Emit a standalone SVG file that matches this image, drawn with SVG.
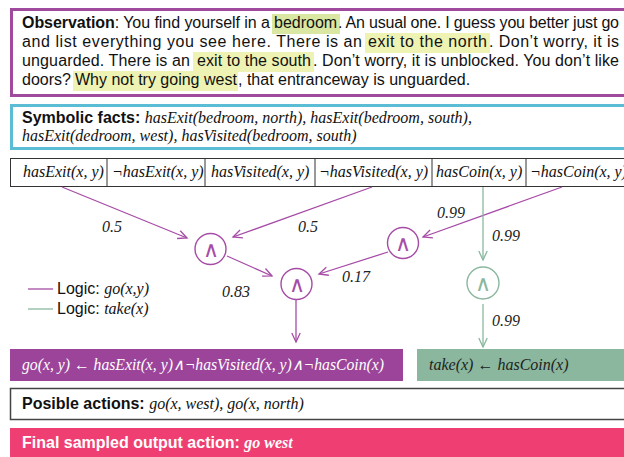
<svg xmlns="http://www.w3.org/2000/svg" width="624" height="457" viewBox="0 0 624 457">
<defs>
<style>
.sans{font-family:"Liberation Sans",Arial,sans-serif;font-size:16px;fill:#111}
.b{font-weight:bold}
.it{font-family:"Liberation Serif","Times New Roman",serif;font-style:italic;font-size:16px;fill:#111}
.hl{fill:#eef3b3}
.pe{stroke:#a64ca6;stroke-width:1.3;fill:none}
.ge{stroke:#8ab79e;stroke-width:1.3;fill:none}
.and{font-family:"DejaVu Sans",sans-serif;font-size:22px;text-anchor:middle;font-weight:200}
.lbl{font-family:"Liberation Serif","Times New Roman",serif;font-style:italic;font-size:16px;fill:#222}
</style>
<marker id="ap" markerWidth="12" markerHeight="12" refX="10" refY="5" orient="auto" markerUnits="userSpaceOnUse" viewBox="0 0 12 10"><path d="M1,0.8 L10,5 L1,9.2" fill="none" stroke="#a64ca6" stroke-width="1.3"/></marker>
<marker id="ag" markerWidth="12" markerHeight="12" refX="10" refY="5" orient="auto" markerUnits="userSpaceOnUse" viewBox="0 0 12 10"><path d="M1,0.8 L10,5 L1,9.2" fill="none" stroke="#8ab79e" stroke-width="1.3"/></marker>
</defs>
<rect width="624" height="457" fill="#fff"/>

<g id="observation">
<rect x="11.5" y="9.5" width="700" height="86" fill="none" stroke="#9f4a9c" stroke-width="3"/>
<rect x="272" y="14" width="68" height="20" fill="#d9e7a3"/>
<rect class="hl" x="365" y="33" width="125" height="20"/>
<rect class="hl" x="193" y="52" width="121" height="20"/>
<rect class="hl" x="73" y="71" width="165" height="20"/>
<text class="sans" x="22" y="28" textLength="248" lengthAdjust="spacing"><tspan class="b">Observation</tspan>: You find yourself in a</text>
<text class="sans" x="274" y="28">bedroom</text>
<text class="sans" x="338" y="28" textLength="281" lengthAdjust="spacing">. An usual one. I guess you better just go</text>
<text class="sans" x="22" y="47" textLength="340" lengthAdjust="spacing">and list everything you see here. There is an</text>
<text class="sans" x="368" y="47" textLength="119" lengthAdjust="spacing">exit to the north</text>
<text class="sans" x="489" y="47" textLength="130" lengthAdjust="spacing">. Don’t worry, it is</text>
<text class="sans" x="22" y="66" textLength="168" lengthAdjust="spacing">unguarded. There is an</text>
<text class="sans" x="197" y="66" textLength="114" lengthAdjust="spacing">exit to the south</text>
<text class="sans" x="313" y="66" textLength="306" lengthAdjust="spacing">. Don’t worry, it is unblocked. You don’t like</text>
<text class="sans" x="22" y="85">doors?</text>
<text class="sans" x="75" y="85">Why not try going west</text>
<text class="sans" x="238" y="85">, that entranceway is unguarded.</text>
</g>

<g id="symbolic-facts">
<rect x="11.5" y="105.5" width="700" height="43" fill="none" stroke="#5bbcd6" stroke-width="3"/>
<text x="22" y="123"><tspan class="sans b">Symbolic facts: </tspan><tspan class="it">hasExit(bedroom, north), hasExit(bedroom, south),</tspan></text>
<text class="it" x="22" y="141">hasExit(dedroom, west), hasVisited(bedroom, south)</text>
</g>

<g id="predicates">
<rect x="10.5" y="158.5" width="700" height="28" fill="#fff" stroke="#333" stroke-width="1"/>
<path d="M107,158.5V186.5M205,158.5V186.5M315,158.5V186.5M432,158.5V186.5M526,158.5V186.5" stroke="#333" stroke-width="1"/>
<text class="it" x="23" y="177">hasExit(x, y)</text>
<text class="it" x="112" y="177">¬hasExit(x, y)</text>
<text class="it" x="211" y="177">hasVisited(x, y)</text>
<text class="it" x="319" y="177">¬hasVisited(x, y)</text>
<text class="it" x="436" y="177">hasCoin(x, y)</text>
<text class="it" x="530" y="177">¬hasCoin(x, y)</text>
</g>

<g id="connectors">
<line class="pe" x1="62" y1="187" x2="187" y2="238" marker-end="url(#ap)"/>
<line class="pe" x1="372" y1="187" x2="233" y2="237" marker-end="url(#ap)"/>
<line class="pe" x1="562" y1="187" x2="423" y2="237" marker-end="url(#ap)"/>
<line class="pe" x1="227" y1="256" x2="272" y2="276" marker-end="url(#ap)"/>
<line class="pe" x1="388" y1="252" x2="319" y2="274" marker-end="url(#ap)"/>
<line class="pe" x1="296" y1="300" x2="296" y2="342" marker-end="url(#ap)"/>
<line class="ge" x1="483" y1="187" x2="483" y2="260" marker-end="url(#ag)"/>
<line class="ge" x1="483" y1="304" x2="483" y2="347" marker-end="url(#ag)"/>
<text class="lbl" x="102" y="232">0.5</text>
<text class="lbl" x="298" y="232">0.5</text>
<text class="lbl" x="437" y="218">0.99</text>
<text class="lbl" x="492" y="241">0.99</text>
<text class="lbl" x="222" y="297">0.83</text>
<text class="lbl" x="342" y="282">0.17</text>
<text class="lbl" x="492" y="326">0.99</text>
</g>

<g id="and1">
<circle cx="210.5" cy="249" r="15.5" fill="#fff" stroke="#a64ca6" stroke-width="1.4"/>
<text class="and" x="210.5" y="257" fill="#a64ca6">∧</text>
</g>
<g id="and2">
<circle cx="403" cy="243" r="15.5" fill="#fff" stroke="#a64ca6" stroke-width="1.4"/>
<text class="and" x="403" y="251" fill="#a64ca6">∧</text>
</g>
<g id="and3">
<circle cx="296.5" cy="284" r="15.5" fill="#fff" stroke="#a64ca6" stroke-width="1.4"/>
<text class="and" x="296.5" y="292" fill="#a64ca6">∧</text>
</g>
<g id="and-take">
<circle cx="483" cy="283" r="16" fill="#fff" stroke="#8ab79e" stroke-width="1.4"/>
<text class="and" x="483" y="291" fill="#8ab79e">∧</text>
</g>

<g id="legend">
<line x1="28" y1="289" x2="53" y2="289" stroke="#a64ca6" stroke-width="1.3"/>
<line x1="28" y1="309" x2="53" y2="309" stroke="#8ab79e" stroke-width="1.3"/>
<text x="57" y="294"><tspan class="sans">Logic: </tspan><tspan class="it">go(x,y)</tspan></text>
<text x="57" y="314"><tspan class="sans">Logic: </tspan><tspan class="it">take(x)</tspan></text>
</g>

<g id="rule-go">
<rect x="10" y="349" width="393" height="32" fill="#9b449a"/>
<text class="it" x="22" y="370" style="fill:#fff" textLength="362" lengthAdjust="spacingAndGlyphs">go(x, y) ← hasExit(x, y)∧¬hasVisited(x, y)∧¬hasCoin(x)</text>
</g>
<g id="rule-take">
<rect x="417" y="349" width="300" height="32" fill="#8ab79e"/>
<text class="it" x="429" y="370" style="fill:#222">take(x) ← hasCoin(x)</text>
</g>

<g id="possible-actions">
<rect x="10.5" y="388.5" width="700" height="31" fill="#fff" stroke="#444" stroke-width="1.5"/>
<text x="22" y="409"><tspan class="sans b">Posible actions: </tspan><tspan class="it">go(x, west), go(x, north)</tspan></text>
</g>

<g id="final-action">
<rect x="10" y="428" width="700" height="30" fill="#ef3f72"/>
<text x="22" y="448"><tspan class="sans b" style="fill:#fff">Final sampled output action: </tspan><tspan class="it" style="fill:#fff;font-weight:bold">go west</tspan></text>
</g>
</svg>
